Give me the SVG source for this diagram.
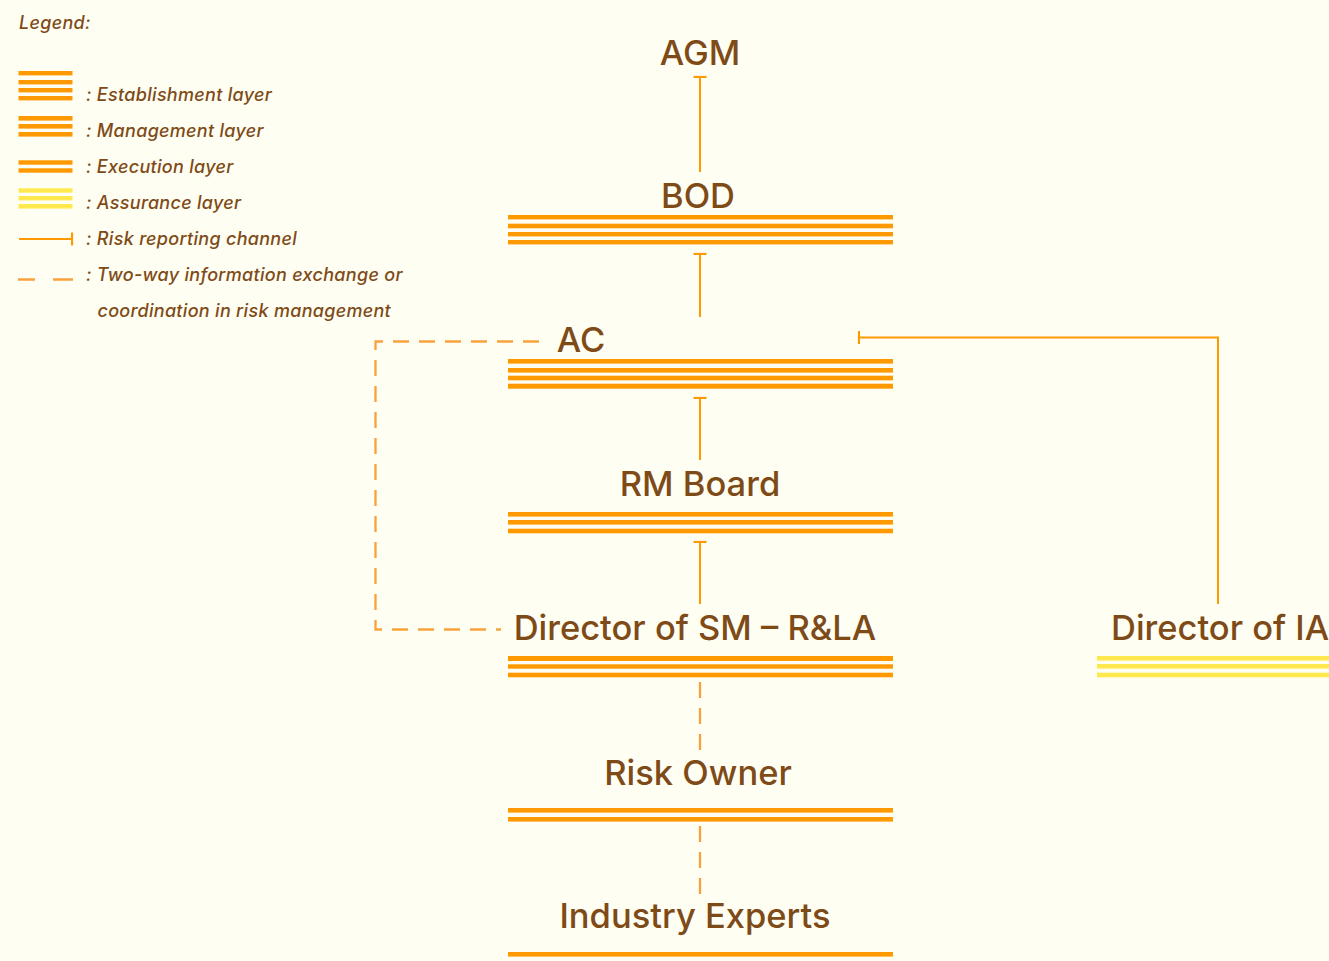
<svg xmlns="http://www.w3.org/2000/svg" width="1329" height="961" viewBox="0 0 1329 961">
<defs>
<style>
.bg{fill:#FFFEF2}
.t{font-family:Inter,"Noto Sans","Liberation Sans",sans-serif;fill:#7E4B18;font-size:34.5px;font-weight:500;text-anchor:middle;letter-spacing:0px}
.lg{font-family:Inter,"Noto Sans","Liberation Sans",sans-serif;fill:#7E4B18;font-size:18px;font-weight:500;font-style:italic;letter-spacing:0.3px}
.o{fill:#FF9900}
.y{fill:#FFE94F}
.rep{fill:none;stroke:#FF9900;stroke-width:2}
.dash{fill:none;stroke:#F9A13C;stroke-width:2.3;stroke-dasharray:16 10}
</style>
<marker id="tee" markerUnits="userSpaceOnUse" markerWidth="4" markerHeight="14" refX="1" refY="7" orient="auto" viewBox="0 0 4 14">
<line x1="1" y1="0.5" x2="1" y2="13.5" stroke="#FF9900" stroke-width="2.2"/>
</marker>
</defs>
<rect class="bg" x="0" y="0" width="1329" height="961"/>

<g id="legend">
<text class="lg" x="19" y="29">Legend:</text>
<rect class="o" x="18.5" y="71" width="54" height="4.4"/>
<rect class="o" x="18.5" y="80" width="54" height="4.4"/>
<rect class="o" x="18.5" y="88" width="54" height="4.4"/>
<rect class="o" x="18.5" y="96" width="54" height="4.4"/>
<text class="lg" x="86" y="101">: Establishment layer</text>
<rect class="o" x="18.5" y="116" width="54" height="4.6"/>
<rect class="o" x="18.5" y="124" width="54" height="4.6"/>
<rect class="o" x="18.5" y="132" width="54" height="4.6"/>
<text class="lg" x="86" y="137">: Management layer</text>
<rect class="o" x="18.5" y="160.3" width="54" height="4.4"/>
<rect class="o" x="18.5" y="168.3" width="54" height="4.4"/>
<text class="lg" x="86" y="173">: Execution layer</text>
<rect class="y" x="18.5" y="188.3" width="54" height="4.4"/>
<rect class="y" x="18.5" y="196" width="54" height="4.4"/>
<rect class="y" x="18.5" y="204" width="54" height="4.6"/>
<text class="lg" x="86" y="209">: Assurance layer</text>
<path class="rep" d="M19,239 H72" marker-end="url(#tee)"/>
<text class="lg" x="86" y="245">: Risk reporting channel</text>
<path d="M18,279.5 H35 M53,279.5 H73" fill="none" stroke="#F9A13C" stroke-width="2.3"/>
<text class="lg" x="86" y="281">: Two-way information exchange or</text>
<text class="lg" x="97.5" y="317">coordination in risk management</text>
</g>

<g id="connectors">
<path class="rep" d="M700,172 V77" marker-end="url(#tee)"/>
<path class="rep" d="M700,317 V254" marker-end="url(#tee)"/>
<path class="rep" d="M700,460 V398" marker-end="url(#tee)"/>
<path class="rep" d="M700,604 V542" marker-end="url(#tee)"/>
<path class="rep" d="M1218,604 V337.5 H859" marker-end="url(#tee)"/>
<path class="dash" d="M539,341.5 H375.5 V629.5 H501"/>
<path class="dash" d="M700,682 V750"/>
<path class="dash" d="M700,826 V894"/>
</g>

<g id="node-agm">
<text class="t" x="700" y="65">AGM</text>
</g>

<g id="node-bod">
<text class="t" x="698" y="208">BOD</text>
<rect class="o" x="508" y="215" width="385" height="4.4"/>
<rect class="o" x="508" y="223.7" width="385" height="4.6"/>
<rect class="o" x="508" y="232" width="385" height="4.4"/>
<rect class="o" x="508" y="240" width="385" height="4.4"/>
</g>

<g id="node-ac">
<text class="t" x="581" y="352">AC</text>
<rect class="o" x="508" y="359" width="385" height="4.6"/>
<rect class="o" x="508" y="368" width="385" height="4.6"/>
<rect class="o" x="508" y="375.7" width="385" height="4.6"/>
<rect class="o" x="508" y="383.7" width="385" height="5"/>
</g>

<g id="node-rm-board">
<text class="t" x="700" y="496">RM Board</text>
<rect class="o" x="508" y="512" width="385" height="4.6"/>
<rect class="o" x="508" y="520" width="385" height="4.6"/>
<rect class="o" x="508" y="528.7" width="385" height="4.6"/>
</g>

<g id="node-director-sm">
<text class="t" x="695" y="640">Director of SM – R&amp;LA</text>
<rect class="o" x="508" y="656" width="385" height="5"/>
<rect class="o" x="508" y="664.3" width="385" height="4.4"/>
<rect class="o" x="508" y="672.7" width="385" height="4.6"/>
</g>

<g id="node-risk-owner">
<text class="t" x="698" y="785">Risk Owner</text>
<rect class="o" x="508" y="808" width="385" height="4.6"/>
<rect class="o" x="508" y="817" width="385" height="4.6"/>
</g>

<g id="node-industry-experts">
<text class="t" x="695" y="928">Industry Experts</text>
<rect class="o" x="508" y="952" width="385" height="4.6"/>
</g>

<g id="node-director-ia">
<text class="t" x="1111" y="640" style="text-anchor:start">Director of IA</text>
<rect class="y" x="1097" y="656" width="240" height="4.6"/>
<rect class="y" x="1097" y="664" width="240" height="4.6"/>
<rect class="y" x="1097" y="672.7" width="240" height="4.6"/>
</g>
</svg>
